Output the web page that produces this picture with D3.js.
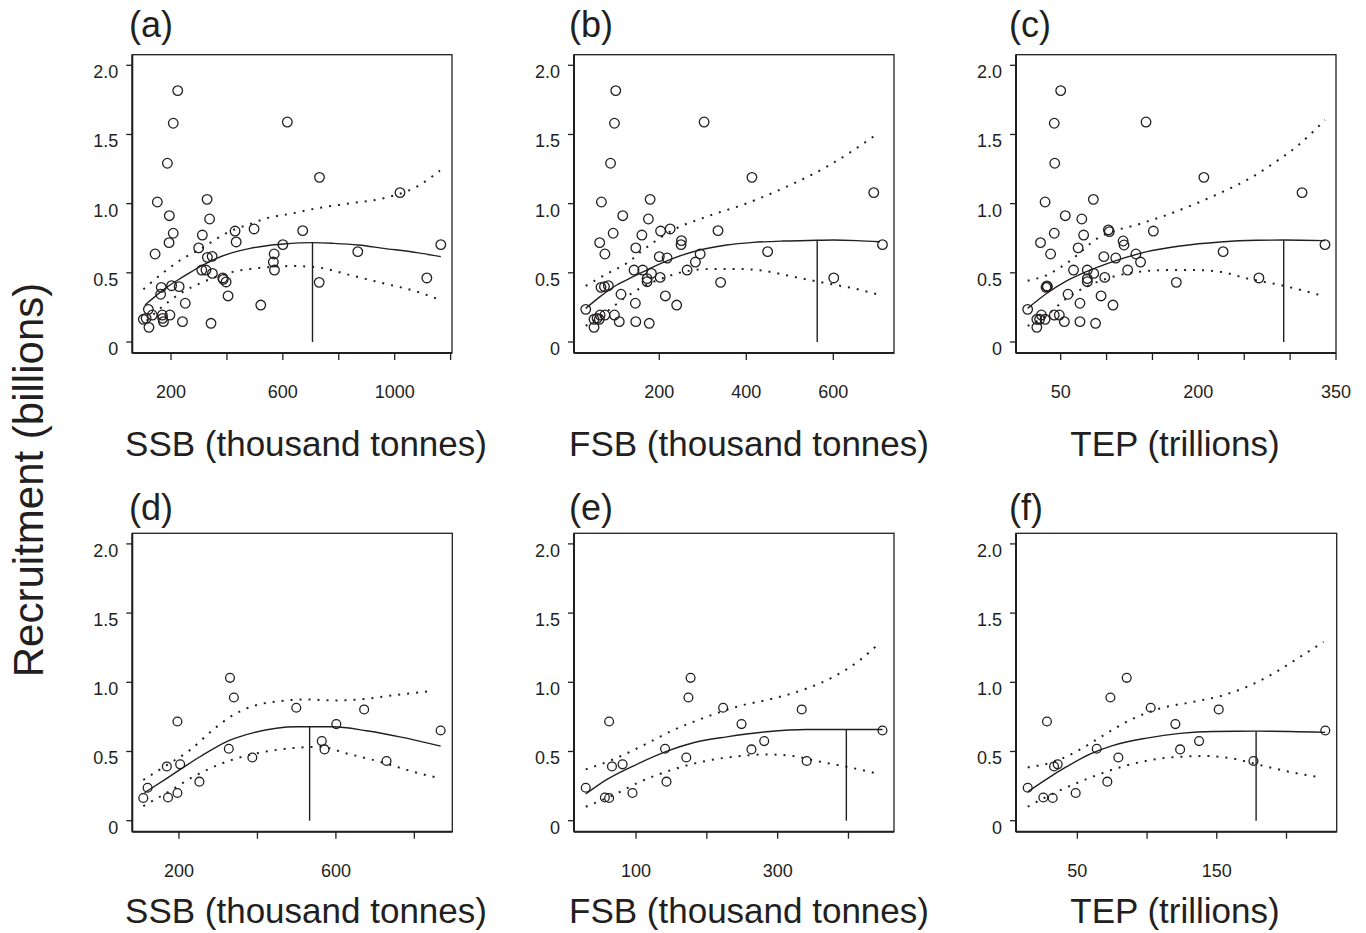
<!DOCTYPE html>
<html><head><meta charset="utf-8">
<script src="https://cdn.jsdelivr.net/npm/d3@7"></script>
<style>body{margin:0;background:#fff} svg{display:block;font-family:"Liberation Sans",Arial,Helvetica,sans-serif}</style>
</head><body>
<svg id="chart" width="1366" height="933"></svg>
<script>
// ---------------- DATA ----------------
const yTickValues = [0, 0.5, 1, 1.5, 2];
const yTickLabels = ["0", "0.5", "1.0", "1.5", "2.0"];
const panelLabels = ["(a)", "(b)", "(c)", "(d)", "(e)", "(f)"];
const xTitles = ["SSB (thousand tonnes)", "FSB (thousand tonnes)", "TEP (trillions)",
                 "SSB (thousand tonnes)", "FSB (thousand tonnes)", "TEP (trillions)"];
const xTickValues = [[200,400,600,800,1000,1200],[200,400,600],[50,100,150,200,250,300,350],
                     [200,400,600,800],[100,200,300,400],[50,100,150,200]];
const xTickLabels = [[200,600,1000],[200,400,600],[50,200,350],[200,600],[100,300],[50,150]];

// (a) SSB vs recruitment, all years
const pointsA = [[224,1.817],[208,1.581],[616,1.590],[187,1.292],[731,1.190],[1019,1.080],[151,1.012],[329,1.031],
 [194,0.913],[338,0.889],[208,0.786],[193,0.718],[312,0.773],[429,0.802],[497,0.817],[671,0.805],[433,0.723],
 [600,0.704],[1165,0.704],[299,0.680],[143,0.636],[569,0.636],[868,0.653],[330,0.612],[347,0.619],[566,0.578],
 [310,0.520],[325,0.520],[570,0.520],[348,0.496],[385,0.463],[387,0.453],[397,0.434],[730,0.431],[1115,0.463],
 [165,0.395],[202,0.407],[229,0.400],[163,0.345],[404,0.333],[251,0.280],[521,0.267],[119,0.236],[133,0.195],
 [169,0.195],[196,0.195],[170,0.171],[101,0.164],[173,0.147],[241,0.147],[343,0.135],[121,0.106],[111,0.171]];
const fitA = [[107,0.267],[184,0.395],[244,0.472],[304,0.545],[363,0.605],[423,0.648],[483,0.677],[542,0.696],
 [602,0.708],[706,0.718],[781,0.713],[870,0.701],[960,0.677],[1079,0.646],[1165,0.617]];
const upperA = [[101,0.381],[184,0.520],[244,0.605],[304,0.670],[375,0.761],[423,0.810],[483,0.853],[542,0.894],
 [635,0.930],[721,0.966],[840,1.002],[960,1.039],[1079,1.123],[1162,1.239]];
const lowerA = [[113,0.154],[184,0.280],[244,0.364],[304,0.424],[363,0.472],[423,0.508],[483,0.528],[542,0.540],
 [635,0.549],[721,0.540],[840,0.484],[960,0.424],[1079,0.364],[1162,0.304]];
const peakA = 706;

// (b) FSB vs recruitment, all years
const pointsB = [[100,1.817],[97,1.581],[303,1.590],[88,1.292],[413,1.190],[693,1.080],[67,1.012],[179,1.031],
 [116,0.913],[175,0.889],[94,0.786],[63,0.718],[160,0.773],[203,0.802],[225,0.817],[335,0.805],[251,0.733],
 [250,0.704],[713,0.704],[146,0.680],[75,0.636],[294,0.636],[449,0.653],[200,0.617],[218,0.607],[283,0.578],
 [142,0.520],[162,0.520],[264,0.520],[182,0.496],[172,0.458],[172,0.436],[202,0.467],[341,0.431],[601,0.463],
 [66,0.395],[74,0.400],[83,0.407],[112,0.345],[214,0.333],[145,0.280],[240,0.267],[31,0.236],[64,0.195],
 [75,0.195],[97,0.195],[57,0.171],[50,0.164],[108,0.147],[146,0.147],[177,0.135],[50,0.106],[62,0.164]];
const fitB = [[31,0.243],[64,0.328],[102,0.412],[140,0.472],[179,0.533],[232,0.605],[293,0.665],[355,0.701],
 [416,0.720],[485,0.730],[563,0.735],[600,0.737],[654,0.733],[707,0.725]];
const upperB = [[31,0.405],[79,0.492],[125,0.569],[163,0.665],[232,0.810],[309,0.906],[401,1.002],[493,1.123],
 [585,1.267],[703,1.508]];
const lowerB = [[31,0.116],[79,0.219],[125,0.328],[171,0.412],[217,0.472],[270,0.516],[324,0.528],[385,0.528],
 [447,0.511],[508,0.472],[585,0.424],[646,0.388],[707,0.340]];
const peakB = 563;

// (c) TEP vs recruitment, all years
const pointsC = [[50,1.817],[43,1.581],[143,1.590],[43.5,1.292],[206,1.190],[313,1.080],[33,1.012],[85.6,1.031],
 [55,0.913],[73,0.889],[43,0.786],[28,0.718],[75,0.773],[102,0.810],[103,0.798],[151,0.802],[118,0.730],
 [119,0.701],[338,0.704],[69,0.680],[39,0.636],[132,0.636],[227,0.653],[97,0.617],[110,0.607],[137,0.578],
 [64,0.520],[79,0.520],[123,0.520],[86,0.496],[79,0.458],[79,0.436],[98,0.467],[176,0.431],[266,0.463],
 [34,0.395],[35.5,0.400],[35,0.405],[58,0.345],[94,0.333],[71,0.280],[107,0.267],[14,0.236],[29,0.195],
 [43,0.195],[48.5,0.195],[33,0.164],[24,0.164],[54,0.147],[71,0.147],[88,0.135],[24,0.106],[27,0.164]];
const fitC = [[14,0.243],[35,0.352],[56.5,0.441],[78,0.508],[107,0.581],[144,0.653],[180,0.694],[224,0.723],
 [264,0.735],[293,0.737],[338,0.733]];
const upperC = [[14,0.443],[35,0.484],[56.5,0.569],[93,0.761],[136,0.853],[165.5,0.918],[198,1.002],[227,1.087],
 [253,1.171],[282,1.292],[307,1.412],[338,1.605]];
const lowerC = [[14,0.116],[35,0.195],[56.5,0.316],[82,0.412],[107,0.472],[136,0.508],[165.5,0.520],[194.5,0.520],
 [223.6,0.508],[252.7,0.460],[289,0.412],[336,0.333]];
const peakC = 293;

// (d) SSB vs recruitment, recent years
const pointsD = [[330,1.032],[340,0.890],[196,0.717],[499,0.816],[672,0.804],[601,0.698],[867,0.652],[564,0.575],
 [571,0.515],[327,0.520],[387,0.457],[729,0.431],[169,0.392],[203,0.407],[252,0.282],[120,0.238],[196,0.200],
 [172,0.168],[109,0.164]];
const fitD = [[112,0.202],[169,0.306],[253.5,0.462],[330,0.582],[389,0.635],[500,0.679],[593,0.679],[678,0.650],
 [763,0.606],[867,0.539]];
const upperD = [[109,0.294],[169,0.402],[228,0.510],[287.5,0.659],[338,0.763],[389,0.828],[457,0.864],[525,0.876],
 [593,0.869],[661,0.876],[729,0.900],[848,0.939]];
const lowerD = [[109,0.106],[169,0.202],[237,0.318],[321,0.426],[406,0.491],[491,0.525],[559,0.534],[627,0.486],
 [712,0.426],[797,0.354],[865,0.306]];
const peakD = 533;

// (e) FSB vs recruitment, recent years
const pointsE = [[177,1.032],[174,0.890],[62,0.717],[223,0.816],[334,0.804],[249,0.698],[448,0.652],[281,0.575],
 [263,0.515],[141,0.520],[171,0.457],[341,0.431],[66,0.392],[81,0.407],[143,0.282],[29,0.238],[95,0.200],
 [56,0.168],[62,0.164]];
const fitE = [[29,0.193],[59,0.298],[96,0.395],[143,0.501],[181,0.563],[228,0.606],[284.5,0.643],[341,0.659],
 [397,0.659],[448,0.659]];
const upperE = [[29,0.371],[68,0.443],[106,0.534],[153,0.655],[200,0.751],[247,0.830],[294,0.883],[341,0.955],
 [379,1.040],[416,1.160],[444,1.285]];
const lowerE = [[29,0.101],[68,0.185],[106,0.282],[153,0.371],[200,0.433],[247,0.467],[284.5,0.479],[322,0.467],
 [360,0.426],[397,0.390],[444,0.337]];
const peakE = 397;

// (f) TEP vs recruitment, recent years
const pointsF = [[85.4,1.032],[73.7,0.890],[28.2,0.717],[102.6,0.816],[151.4,0.804],[120.3,0.698],[227.8,0.652],
 [137.3,0.575],[123.7,0.515],[63.9,0.520],[79.4,0.457],[176.3,0.431],[33.3,0.392],[35.9,0.407],[71.5,0.282],
 [14.4,0.238],[48.8,0.200],[25.6,0.168],[32.3,0.164]];
const fitF = [[14.4,0.209],[28,0.301],[42.3,0.390],[59,0.481],[75.8,0.544],[99.8,0.597],[123.7,0.631],[147.6,0.645],
 [178.2,0.647],[202.6,0.645],[227.8,0.638]];
const upperF = [[14.4,0.385],[35.2,0.433],[52,0.515],[71,0.631],[87.8,0.727],[109.3,0.811],[133.3,0.859],
 [152.4,0.900],[171.5,0.967],[190.7,1.064],[209.8,1.184],[226.6,1.292]];
const lowerF = [[14.4,0.101],[32.8,0.197],[52,0.282],[75.8,0.371],[99.8,0.433],[123.7,0.462],[142.8,0.467],
 [162,0.448],[181,0.402],[205,0.347],[224,0.313]];
const peakF = 178.2;

// ---------------- LAYOUT ----------------
const INK = "#231f20";
const layout = [
  {x0:132.3, x1:452,   y0:54.7,  y1:353,   dom:[61.5,1205], lx:129,  ly:37,  tx:306, ty:456, r:4.8},
  {x0:574,   x1:894,   y0:54.7,  y1:353,   dom:[4,739.5],   lx:569,  ly:37,  tx:749, ty:456, r:4.8},
  {x0:1016,  x1:1336,  y0:54.7,  y1:353,   dom:[1.3,350],   lx:1009, ly:37,  tx:1175,ty:456, r:4.8},
  {x0:132.3, x1:452.3, y0:533.3, y1:831.7, dom:[81,896.7],  lx:129,  ly:520, tx:306, ty:923, r:4.4},
  {x0:574,   x1:894,   y0:533.3, y1:831.7, dom:[12.4,464.3],lx:569,  ly:520, tx:749, ty:923, r:4.4},
  {x0:1016,  x1:1336.7,y0:533.3, y1:831.7, dom:[6,236],     lx:1009, ly:520, tx:1175,ty:923, r:4.4}
];
const panelData = [
  {pts:pointsA, fit:fitA, up:upperA, lo:lowerA, peak:peakA},
  {pts:pointsB, fit:fitB, up:upperB, lo:lowerB, peak:peakB},
  {pts:pointsC, fit:fitC, up:upperC, lo:lowerC, peak:peakC},
  {pts:pointsD, fit:fitD, up:upperD, lo:lowerD, peak:peakD},
  {pts:pointsE, fit:fitE, up:upperE, lo:lowerE, peak:peakE},
  {pts:pointsF, fit:fitF, up:upperF, lo:lowerF, peak:peakF}
];

const svg = d3.select("#chart");

// Y title
svg.append("text")
  .attr("transform", "translate(43,480) rotate(-90)")
  .attr("text-anchor", "middle")
  .attr("font-size", 42).attr("fill", INK)
  .text("Recruitment (billions)");

layout.forEach((L, i) => {
  const D = panelData[i];
  const x = d3.scaleLinear().domain(L.dom).range([L.x0, L.x1]);
  const y = d3.scaleLinear().domain([-0.0795, 2.0766]).range([L.y1, L.y0]);
  const g = svg.append("g");

  // panel label
  g.append("text").attr("x", L.lx).attr("y", L.ly).attr("font-size", 36).attr("fill", INK).text(panelLabels[i]);

  // box
  g.append("rect").attr("x", L.x0).attr("y", L.y0).attr("width", L.x1 - L.x0).attr("height", L.y1 - L.y0)
    .attr("fill", "none").attr("stroke", INK).attr("stroke-width", 1.3);
  g.append("line").attr("x1", L.x0).attr("x2", L.x0).attr("y1", L.y0).attr("y2", L.y1)
    .attr("stroke", INK).attr("stroke-width", 2);
  g.append("line").attr("x1", L.x0).attr("x2", L.x1).attr("y1", L.y1).attr("y2", L.y1)
    .attr("stroke", INK).attr("stroke-width", 2);

  // y axis ticks
  yTickValues.forEach((v, k) => {
    g.append("line").attr("x1", L.x0 - 6).attr("x2", L.x0).attr("y1", y(v)).attr("y2", y(v))
      .attr("stroke", INK).attr("stroke-width", 1.3);
    g.append("text").attr("x", L.x0 - 14).attr("y", y(v) + 13).attr("text-anchor", "end")
      .attr("font-size", 18).attr("fill", INK).text(yTickLabels[k]);
  });

  // x axis ticks
  xTickValues[i].forEach(v => {
    g.append("line").attr("x1", x(v)).attr("x2", x(v)).attr("y1", L.y1).attr("y2", L.y1 + 7)
      .attr("stroke", INK).attr("stroke-width", 1.3);
  });
  xTickLabels[i].forEach(v => {
    g.append("text").attr("x", x(v)).attr("y", L.y1 + 45).attr("text-anchor", "middle")
      .attr("font-size", 18).attr("fill", INK).text(v);
  });

  // x title
  g.append("text").attr("x", L.tx).attr("y", L.ty).attr("text-anchor", "middle")
    .attr("font-size", 35).attr("fill", INK).text(xTitles[i]);

  const line = d3.line().x(d => x(d[0])).y(d => y(d[1])).curve(d3.curveMonotoneX);

  g.append("path").attr("d", line(D.up)).attr("fill", "none").attr("stroke", INK)
    .attr("stroke-width", 2).attr("stroke-dasharray", "2,7");
  g.append("path").attr("d", line(D.lo)).attr("fill", "none").attr("stroke", INK)
    .attr("stroke-width", 2).attr("stroke-dasharray", "2,7");
  g.append("path").attr("d", line(D.fit)).attr("fill", "none").attr("stroke", INK).attr("stroke-width", 1.4);

  // vertical line at peak of fitted curve
  const fitInterp = d3.scaleLinear().domain(D.fit.map(d => d[0])).range(D.fit.map(d => d[1]));
  g.append("line").attr("x1", x(D.peak)).attr("x2", x(D.peak)).attr("y1", y(0)).attr("y2", y(fitInterp(D.peak)))
    .attr("stroke", INK).attr("stroke-width", 1.4);

  g.selectAll("circle.pt").data(D.pts).join("circle").attr("class", "pt")
    .attr("cx", d => x(d[0])).attr("cy", d => y(d[1])).attr("r", L.r)
    .attr("fill", "none").attr("stroke", INK).attr("stroke-width", 1.3);
});
</script>
</body></html>
